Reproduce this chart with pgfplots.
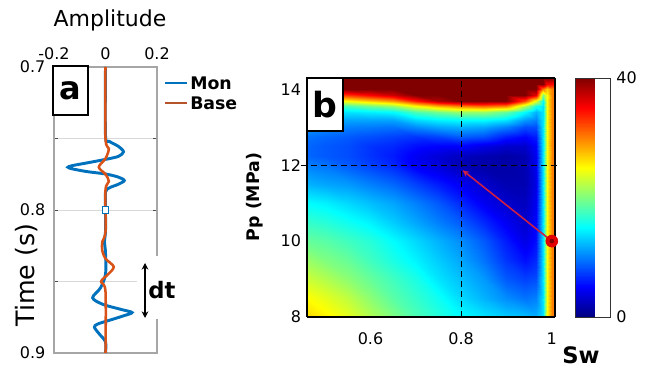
\documentclass[border=0pt]{standalone}
\usepackage{pgfplots}
\pgfplotsset{compat=1.18}
\usepackage{fontspec}
\setmainfont{DejaVu Sans}
\usetikzlibrary{arrows.meta}
\definecolor{mblue}{RGB}{0,114,189}
\definecolor{morange}{RGB}{217,83,25}
\definecolor{arrred}{RGB}{205,30,70}
\newcommand{\tfs}{\fontsize{12}{14}\selectfont}
\begin{document}
\begin{tikzpicture}
\path[use as bounding box] (0,0) rectangle (484.5pt,275.25pt);
% ---------------- panel a ----------------
\begin{axis}[
  at={(40.5pt,10.5pt)}, anchor=south west,
  scale only axis, width=77.25pt, height=214.5pt,
  xmin=-0.2, xmax=0.2, ymin=0.7, ymax=0.9, y dir=reverse,
  xtick={-0.2,0,0.2}, ytick={0.7,0.8,0.9}, minor ytick={0.75,0.85},
  xticklabel pos=upper,
  ymajorgrids, yminorgrids,
  grid style={gray!30, line width=0.6pt},
  minor grid style={gray!30, line width=0.6pt},
  axis line style={gray!70, line width=0.8pt},
  tick style={black!70, line width=0.6pt},
  tick align=inside, major tick length=3pt, minor tick length=3pt,
  ticklabel style={font=\tfs},
  yticklabel style={xshift=-3pt},
  xticklabel style={yshift=2pt},
  /pgf/number format/assume math mode=true,
]
\addplot[mblue, line width=2.2pt, smooth, tension=0.5] coordinates {
(0,0.700) (0,0.748) (0.015,0.7520) (0.05,0.7555) (0.07,0.7593) (0.05,0.7625) (0,0.7646)
(-0.07,0.767) (-0.13,0.769) (-0.146,0.7701) (-0.13,0.7712) (-0.07,0.7732) (0,0.7748)
(0.05,0.777) (0.073,0.7794) (0.05,0.782) (0.015,0.7845) (0,0.7875) (0,0.800)
(0,0.815) (-0.004,0.822) (0,0.830) (0,0.845) (-0.02,0.8546) (-0.05,0.8614) (-0.01,0.866)
(0.06,0.8695) (0.103,0.8717) (0.07,0.874) (0.03,0.8763) (-0.03,0.8797) (-0.043,0.882)
(-0.025,0.8865) (0,0.8922) (0,0.900)};
\addplot[morange, line width=1.9pt, smooth, tension=0.5] coordinates {
(0,0.700) (0,0.750) (0.013,0.757) (0,0.764) (-0.026,0.770) (0,0.775) (0.013,0.780)
(0,0.786) (0,0.815) (-0.012,0.822) (-0.013,0.828) (0,0.834) (0.032,0.8397) (0.01,0.845)
(-0.017,0.850) (0,0.857) (0,0.900)};
\addplot[only marks, mark=square*, mark size=2.3pt,
  mark options={draw=mblue, fill=white, line width=0.8pt}] coordinates {(0,0.8)};
\end{axis}
% panel a annotations
\draw[black, line width=1.1pt, fill=white] (39.75pt,189pt) rectangle (66pt,225.75pt);
\node[font=\bfseries\fontsize{24}{24}\selectfont] at (52.9pt,207pt) {a};
\node[font=\fontsize{16.5}{18}\selectfont] at (82.5pt,260pt) {Amplitude};
\node[font=\fontsize{19}{21}\selectfont, rotate=90] at (20pt,69pt) {Time (s)};
\draw[mblue, line width=2pt] (123.75pt,213pt) -- (140.25pt,213pt);
\draw[morange!80!black!90, line width=2pt] (123.75pt,198pt) -- (140.25pt,198pt);
\node[font=\bfseries\fontsize{13}{14}\selectfont, anchor=west, inner sep=0pt] at (142.5pt,213pt) {Mon};
\node[font=\bfseries\fontsize{13}{14}\selectfont, anchor=west, inner sep=0pt] at (142.5pt,198pt) {Base};
\fill[white] (103pt,36pt) rectangle (138pt,83pt);
\draw[black, line width=1pt, {Stealth[length=5pt,width=5pt]}-{Stealth[length=5pt,width=5pt]}] (108.75pt,78pt) -- (108.75pt,36.75pt);
\node[font=\bfseries\fontsize{17}{18}\selectfont] at (121.5pt,57.75pt) {dt};
% ---------------- panel b ----------------
\begin{axis}[
  at={(230.25pt,37.5pt)}, anchor=south west,
  scale only axis, width=186pt, height=179.25pt,
  view={0}{90},
  xmin=0.46, xmax=1.007, ymin=8, ymax=14.3,
  xtick={0.6,0.8,1}, ytick={8,10,12,14},
  colormap/jet, point meta min=0, point meta max=40,
  clip=false,
  axis line style={black, line width=0.8pt},
  tick style={draw=none},
  ticklabel style={font=\tfs},
  yticklabel style={xshift=-1pt},
  xticklabel style={yshift=-8pt},
  /pgf/number format/assume math mode=true,
  colorbar,
  colorbar style={
    at={(parent axis.north east)}, anchor=north west, xshift=6.75pt,
    scale only axis, width=26.25pt, height=179.25pt,
    ytick={0,40}, tick style={draw=none},
    axis line style={black!80, line width=0.6pt},
    ticklabel style={font=\tfs},
    yticklabel style={xshift=1pt},
    /pgf/number format/assume math mode=true,
  },
]
\addplot3[surf, shader=interp, mesh/cols=16] coordinates {
(0.46,8.0,26.5) (0.50,8.0,25.5) (0.55,8.0,24) (0.60,8.0,22) (0.65,8.0,20) (0.70,8.0,18) (0.75,8.0,16.5) (0.80,8.0,15) (0.85,8.0,14) (0.90,8.0,13) (0.94,8.0,12.5) (0.965,8.0,12) (0.98,8.0,14) (0.99,8.0,25) (1.0,8.0,30) (1.007,8.0,30)
(0.46,8.5,25) (0.50,8.5,24) (0.55,8.5,22.5) (0.60,8.5,20.5) (0.65,8.5,18.5) (0.70,8.5,17) (0.75,8.5,15.5) (0.80,8.5,13.5) (0.85,8.5,12) (0.90,8.5,10.5) (0.94,8.5,9.5) (0.965,8.5,10) (0.98,8.5,14) (0.99,8.5,25) (1.0,8.5,30) (1.007,8.5,30)
(0.46,9.0,23) (0.50,9.0,22) (0.55,9.0,20.5) (0.60,9.0,19) (0.65,9.0,17.5) (0.70,9.0,16) (0.75,9.0,14) (0.80,9.0,12.5) (0.85,9.0,11) (0.90,9.0,8.5) (0.94,9.0,7.5) (0.965,9.0,8) (0.98,9.0,14) (0.99,9.0,25) (1.0,9.0,30) (1.007,9.0,30)
(0.46,9.5,21) (0.50,9.5,20) (0.55,9.5,19) (0.60,9.5,17.5) (0.65,9.5,16) (0.70,9.5,14.5) (0.75,9.5,13) (0.80,9.5,11.5) (0.85,9.5,9.5) (0.90,9.5,7) (0.94,9.5,5.5) (0.965,9.5,6.5) (0.98,9.5,14) (0.99,9.5,25) (1.0,9.5,30) (1.007,9.5,30)
(0.46,10.0,19) (0.50,10.0,18.5) (0.55,10.0,17.5) (0.60,10.0,16.5) (0.65,10.0,15) (0.70,10.0,13.5) (0.75,10.0,12) (0.80,10.0,10.5) (0.85,10.0,8.5) (0.90,10.0,6) (0.94,10.0,4) (0.965,10.0,5.5) (0.98,10.0,14) (0.99,10.0,25) (1.0,10.0,30) (1.007,10.0,30)
(0.46,10.5,17) (0.50,10.5,16.5) (0.55,10.5,15.5) (0.60,10.5,14.5) (0.65,10.5,13) (0.70,10.5,11.5) (0.75,10.5,10) (0.80,10.5,8.5) (0.85,10.5,6.5) (0.90,10.5,4.5) (0.94,10.5,3) (0.965,10.5,5) (0.98,10.5,14) (0.99,10.5,25) (1.0,10.5,30) (1.007,10.5,30)
(0.46,11.0,15) (0.50,11.0,14.5) (0.55,11.0,13.5) (0.60,11.0,12.5) (0.65,11.0,11.5) (0.70,11.0,10) (0.75,11.0,8.5) (0.80,11.0,6.5) (0.85,11.0,4.5) (0.90,11.0,3) (0.94,11.0,2.5) (0.965,11.0,4.5) (0.98,11.0,14) (0.99,11.0,25) (1.0,11.0,30) (1.007,11.0,30)
(0.46,11.5,12) (0.50,11.5,11.5) (0.55,11.5,11) (0.60,11.5,10) (0.65,11.5,9) (0.70,11.5,7.5) (0.75,11.5,6) (0.80,11.5,4.5) (0.85,11.5,3) (0.90,11.5,2) (0.94,11.5,2) (0.965,11.5,4) (0.98,11.5,14) (0.99,11.5,25) (1.0,11.5,30) (1.007,11.5,30)
(0.46,12.0,10) (0.50,12.0,9.5) (0.55,12.0,8.5) (0.60,12.0,7.5) (0.65,12.0,6.5) (0.70,12.0,4.5) (0.75,12.0,3.5) (0.80,12.0,2) (0.85,12.0,1.5) (0.90,12.0,1.5) (0.94,12.0,2) (0.965,12.0,4.5) (0.98,12.0,14) (0.99,12.0,25) (1.0,12.0,30) (1.007,12.0,30)
(0.46,12.25,9) (0.50,12.25,8.5) (0.55,12.25,8) (0.60,12.25,7) (0.65,12.25,6) (0.70,12.25,4.5) (0.75,12.25,3.5) (0.80,12.25,2.5) (0.85,12.25,2) (0.90,12.25,1.5) (0.94,12.25,2) (0.965,12.25,4.5) (0.98,12.25,14) (0.99,12.25,25) (1.0,12.25,30) (1.007,12.25,30)
(0.46,12.5,9) (0.50,12.5,8.5) (0.55,12.5,8) (0.60,12.5,7) (0.65,12.5,6.5) (0.70,12.5,5.5) (0.75,12.5,5) (0.80,12.5,5) (0.85,12.5,4) (0.90,12.5,3) (0.94,12.5,3) (0.965,12.5,5) (0.98,12.5,14) (0.99,12.5,25) (1.0,12.5,30) (1.007,12.5,30)
(0.46,12.75,9.5) (0.50,12.75,9) (0.55,12.75,8.5) (0.60,12.75,8) (0.65,12.75,7.5) (0.70,12.75,7) (0.75,12.75,7.5) (0.80,12.75,8.5) (0.85,12.75,8) (0.90,12.75,6) (0.94,12.75,5) (0.965,12.75,6) (0.98,12.75,14) (0.99,12.75,25) (1.0,12.75,30) (1.007,12.75,30)
(0.46,13.0,11) (0.50,13.0,10.5) (0.55,13.0,10) (0.60,13.0,9.8) (0.65,13.0,9.5) (0.70,13.0,10.5) (0.75,13.0,11.5) (0.80,13.0,12) (0.85,13.0,11.5) (0.90,13.0,10) (0.94,13.0,8) (0.965,13.0,8) (0.98,13.0,14) (0.99,13.0,25) (1.0,13.0,30) (1.007,13.0,30)
(0.46,13.2,12.5) (0.50,13.2,12) (0.55,13.2,11.5) (0.60,13.2,11.5) (0.65,13.2,11.5) (0.70,13.2,13.5) (0.75,13.2,14.5) (0.80,13.2,15) (0.85,13.2,15) (0.90,13.2,14) (0.94,13.2,11) (0.965,13.2,10) (0.98,13.2,14) (0.99,13.2,25) (1.0,13.2,30) (1.007,13.2,30)
(0.46,13.4,14.5) (0.50,13.4,14.3) (0.55,13.4,14) (0.60,13.4,14.5) (0.65,13.4,15) (0.70,13.4,18) (0.75,13.4,19.5) (0.80,13.4,21) (0.85,13.4,21) (0.90,13.4,19) (0.94,13.4,15) (0.965,13.4,12) (0.98,13.4,14) (0.99,13.4,25) (1.0,13.4,30) (1.007,13.4,30)
(0.46,13.55,17) (0.50,13.55,17.5) (0.55,13.55,18) (0.60,13.55,19.5) (0.65,13.55,21) (0.70,13.55,25) (0.75,13.55,28) (0.80,13.55,30) (0.85,13.55,31) (0.90,13.55,30) (0.94,13.55,22) (0.965,13.55,16) (0.98,13.55,14) (0.99,13.55,25) (1.0,13.55,30) (1.007,13.55,30)
(0.46,13.7,23) (0.50,13.7,24) (0.55,13.7,25) (0.60,13.7,27) (0.65,13.7,29) (0.70,13.7,34) (0.75,13.7,38) (0.80,13.7,40) (0.85,13.7,40) (0.90,13.7,40) (0.94,13.7,32) (0.965,13.7,24) (0.98,13.7,15) (0.99,13.7,25) (1.0,13.7,30) (1.007,13.7,30)
(0.46,13.85,31) (0.50,13.85,32) (0.55,13.85,33) (0.60,13.85,35) (0.65,13.85,37) (0.70,13.85,40) (0.75,13.85,40) (0.80,13.85,40) (0.85,13.85,40) (0.90,13.85,40) (0.94,13.85,40) (0.965,13.85,36) (0.98,13.85,20) (0.99,13.85,25) (1.0,13.85,30) (1.007,13.85,30)
(0.46,14.0,38) (0.50,14.0,39) (0.55,14.0,40) (0.60,14.0,40) (0.65,14.0,40) (0.70,14.0,40) (0.75,14.0,40) (0.80,14.0,40) (0.85,14.0,40) (0.90,14.0,40) (0.94,14.0,40) (0.965,14.0,40) (0.98,14.0,30) (0.99,14.0,27) (1.0,14.0,30) (1.007,14.0,30)
(0.46,14.15,40) (0.50,14.15,40) (0.55,14.15,40) (0.60,14.15,40) (0.65,14.15,40) (0.70,14.15,40) (0.75,14.15,40) (0.80,14.15,40) (0.85,14.15,40) (0.90,14.15,40) (0.94,14.15,40) (0.965,14.15,40) (0.98,14.15,40) (0.99,14.15,35) (1.0,14.15,35) (1.007,14.15,33)
(0.46,14.3,40) (0.50,14.3,40) (0.55,14.3,40) (0.60,14.3,40) (0.65,14.3,40) (0.70,14.3,40) (0.75,14.3,40) (0.80,14.3,40) (0.85,14.3,40) (0.90,14.3,40) (0.94,14.3,40) (0.965,14.3,40) (0.98,14.3,40) (0.99,14.3,40) (1.0,14.3,40) (1.007,14.3,40)
};
\addplot3[black, line width=0.9pt, dash pattern=on 4.5pt off 3pt] coordinates {(0.8,8,40) (0.8,14.3,40)};
\addplot3[black, line width=0.9pt, dash pattern=on 4.5pt off 3pt] coordinates {(0.447,12,40) (1.012,12,40)};
\addplot3[arrred, line width=1.2pt, -{Stealth[length=5pt,width=4.5pt]}] coordinates {(1.0,10,40) (0.803,11.87,40)};
\addplot3[only marks, mark=*, mark size=4.5pt, mark options={fill=red!90!black, draw=red!85!black}] coordinates {(1.0,10,40)};
\addplot3[only marks, mark=*, mark size=1.5pt, mark options={fill=black!50!red, draw=black!50!red}] coordinates {(1.0,10,40)};
\end{axis}
\draw[black, line width=1.2pt, fill=white] (230.25pt,177pt) rectangle (257.25pt,216.75pt);
\node[font=\bfseries\fontsize{26}{26}\selectfont] at (243.75pt,196.9pt) {b};
\node[font=\bfseries\fontsize{13}{14}\selectfont, rotate=90] at (191.25pt,127.5pt) {Pp (MPa)};
\node[font=\bfseries\fontsize{17}{18}\selectfont] at (435.75pt,9pt) {Sw};
\end{tikzpicture}
\end{document}
